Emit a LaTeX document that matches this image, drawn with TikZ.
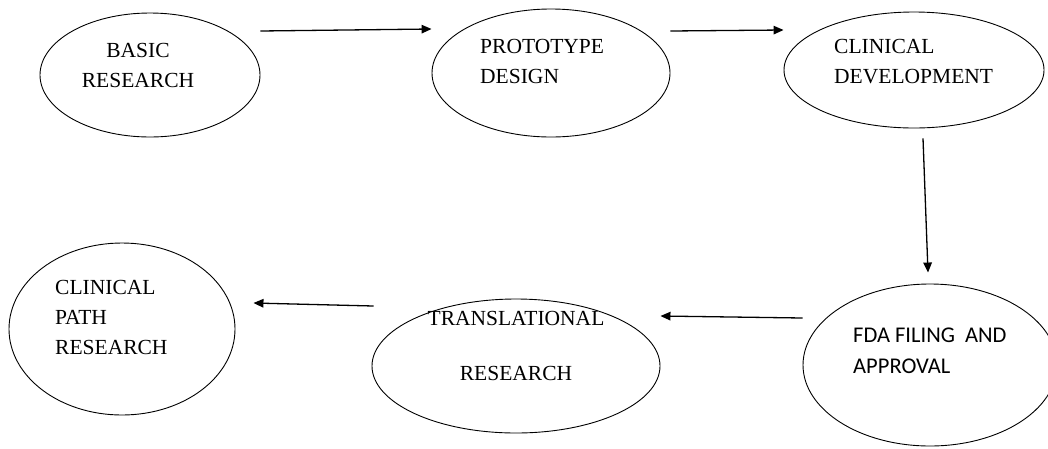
\documentclass[tikz,border=0pt]{standalone}
\usepackage{fontspec}
\setmainfont{Liberation Serif}
\newfontfamily\labelsans{Carlito}
\usetikzlibrary{shapes.geometric,arrows.meta}
% stacked lines whose baseline is that of the first line
\newcommand{\stacklines}[2][l]{\begin{tabular}[t]{@{}#1@{}}#2\end{tabular}}

\begin{document}
\begin{tikzpicture}[x=1pt,y=1pt,
  stage/.style={ellipse, draw, line width=0.9pt, inner sep=0pt},
  txt/.style={inner sep=0pt, font=\fontsize{21.5}{30}\selectfont},
  arr/.style={line width=1.3pt, -{Triangle[length=10pt,width=8.5pt]}}]
\useasboundingbox (0,0) rectangle (1048,-448);

% stages
\node[stage, minimum width=220pt, minimum height=124pt] (basic) at (150,-75) {};
\node[stage, minimum width=238pt, minimum height=128pt] (proto) at (551,-73) {};
\node[stage, minimum width=260pt, minimum height=116pt] (clin)  at (914,-70) {};
\node[stage, minimum width=254pt, minimum height=162pt] (fda)   at (930,-365) {};
\node[stage, minimum width=288pt, minimum height=134pt] (trans) at (516,-366) {};
\node[stage, minimum width=226pt, minimum height=172pt] (cpath) at (122,-329) {};

% stage labels
\node[txt, anchor=base] (basicT) at (138,-57) {\stacklines[c]{BASIC\\RESEARCH}};
\node[txt, anchor=base west] (protoT) at (480,-53) {\stacklines{PROTOTYPE\\DESIGN}};
\node[txt, anchor=base west] (clinT) at (834,-53) {\stacklines{CLINICAL\\DEVELOPMENT}};
\node[inner sep=0pt, font=\labelsans\fontsize{22.5}{31}\selectfont, anchor=base west] (fdaT) at (853,-342)
  {\stacklines{FDA FILING\ \ AND\\APPROVAL}};
\node[txt, anchor=base] (transT) at (516,-325) {\stacklines[c]{TRANSLATIONAL\\[25pt]RESEARCH}};
\node[txt, anchor=base west] (cpathT) at (55,-294) {\stacklines{CLINICAL\\PATH\\RESEARCH}};

% flow
\draw[arr] ([yshift=44pt]basic.east) -- ([yshift=44pt]proto.west);
\draw[arr] ([yshift=42pt]proto.east) -- ([yshift=40pt]clin.west);
\draw[arr] ([shift={(9pt,-10pt)}]clin.south) -- ([shift={(-2pt,11pt)}]fda.north);
\draw[arr] ([yshift=47pt]fda.west) -- ([yshift=50pt]trans.east);
\draw[arr] ([shift={(2pt,60pt)}]trans.west) -- ([shift={(18pt,26pt)}]cpath.east);
\end{tikzpicture}
\end{document}
